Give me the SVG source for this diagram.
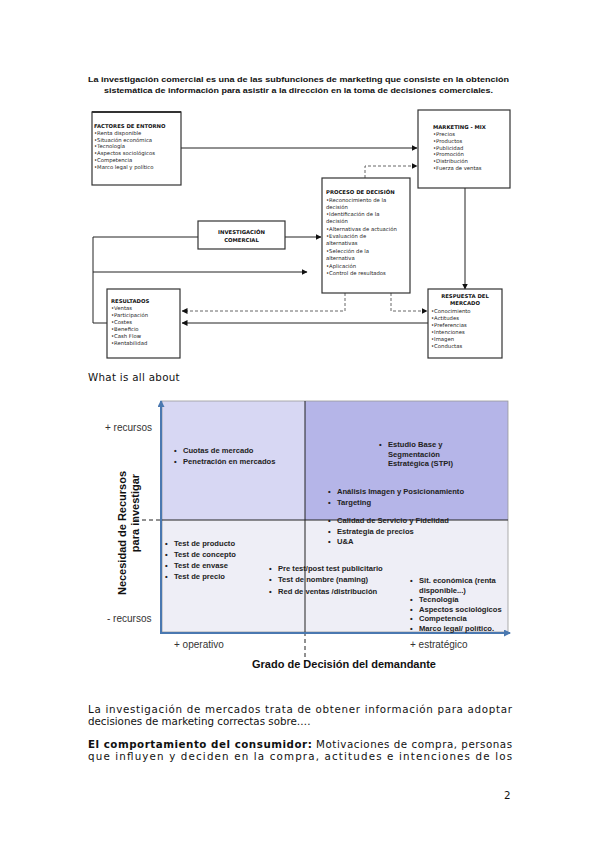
<svg xmlns="http://www.w3.org/2000/svg" width="599" height="848" viewBox="0 0 599 848">
<style>
.t{font-family:"Liberation Sans",Arial,sans-serif;fill:#111}
.s{font-family:"DejaVu Sans",Verdana,sans-serif;font-size:5.3px;fill:#222}
.sb{font-family:"DejaVu Sans",Verdana,sans-serif;font-size:5.3px;font-weight:bold;fill:#111}
.box{fill:#fff;stroke:#333;stroke-width:1.2}
.ln{fill:none;stroke:#222;stroke-width:1}
.dl{fill:none;stroke:#555;stroke-width:0.9;stroke-dasharray:3,2}
.q{font-family:"Liberation Sans",Arial,sans-serif;font-size:7.6px;font-weight:bold;fill:#222}
.ax{font-family:"Liberation Sans",Arial,sans-serif;font-size:10px;fill:#333}
.p{font-family:"DejaVu Sans",Verdana,sans-serif;font-size:10.3px;fill:#111}
</style>
<defs>
<marker id="ah" markerWidth="6" markerHeight="6" refX="5.5" refY="3" orient="auto" markerUnits="userSpaceOnUse"><path d="M0,0 L6,3 L0,6 z" fill="#111"/></marker>
<marker id="ab" markerWidth="7" markerHeight="7" refX="6" refY="3.5" orient="auto" markerUnits="userSpaceOnUse"><path d="M0,0 L7,3.5 L0,7 z" fill="#4a78b0"/></marker>
</defs>
<rect width="599" height="848" fill="#fff"/>

<text class="t" x="298.5" y="82" font-size="7.6" font-weight="bold" text-anchor="middle" textLength="421" lengthAdjust="spacingAndGlyphs">La investigación comercial es una de las subfunciones de marketing que consiste en la obtención</text>
<text class="t" x="298.5" y="93" font-size="7.6" font-weight="bold" text-anchor="middle" textLength="389" lengthAdjust="spacingAndGlyphs">sistemática de información para asistir a la dirección en la toma de decisiones comerciales.</text>

<g id="connectors">
<path class="ln" d="M181,148 H417" marker-end="url(#ah)"/>
<path class="dl" d="M365,178 V166 H417" marker-end="url(#ah)"/>
<path class="ln" d="M465,188 V289" marker-end="url(#ah)"/>
<path class="ln" d="M285,237 H321" marker-end="url(#ah)"/>
<path class="ln" d="M107,323 H93 V237 H198"/>
<path class="ln" d="M93,272 H307" marker-end="url(#ah)"/>
<path class="dl" d="M345,293 V311 H182" marker-end="url(#ah)"/>
<path class="dl" d="M391,293 V311 H427" marker-end="url(#ah)"/>
<path class="ln" d="M428,323 H182" marker-end="url(#ah)"/>
</g>

<g id="factores">
<rect class="box" x="92" y="112" width="89" height="73"/>
<line x1="92" y1="112" x2="181" y2="112" stroke="#333" stroke-width="2"/>
<text class="sb" x="94" y="128">FACTORES DE ENTORNO</text>
<text class="s" x="94" y="134.8">•Renta disponible</text>
<text class="s" x="94" y="141.6">•Situación económica</text>
<text class="s" x="94" y="148.4">•Tecnología</text>
<text class="s" x="94" y="155.2">•Aspectos sociológicos</text>
<text class="s" x="94" y="162">•Competencia</text>
<text class="s" x="94" y="168.8">•Marco legal y político</text>
</g>

<g id="marketing">
<rect class="box" x="418" y="110" width="92" height="78"/>
<text class="sb" x="433" y="129">MARKETING - MIX</text>
<text class="s" x="433" y="136">•Precios</text>
<text class="s" x="433" y="142.8">•Productos</text>
<text class="s" x="433" y="149.6">•Publicidad</text>
<text class="s" x="433" y="156.4">•Promoción</text>
<text class="s" x="433" y="163.2">•Distribución</text>
<text class="s" x="433" y="170">•Fuerza de ventas</text>
</g>

<g id="proceso">
<rect class="box" x="322" y="178" width="88" height="115"/>
<text class="sb" x="326" y="194">PROCESO DE DECISIÓN</text>
<text class="s" x="326" y="202">•Reconocimiento de la</text>
<text class="s" x="326" y="209">decisión</text>
<text class="s" x="326" y="216">•Identificación de la</text>
<text class="s" x="326" y="223">decisión</text>
<text class="s" x="326" y="230.5">•Alternativas de actuación</text>
<text class="s" x="326" y="238">•Evaluación de</text>
<text class="s" x="326" y="245">alternativas</text>
<text class="s" x="326" y="253">•Selección de la</text>
<text class="s" x="326" y="260">alternativa</text>
<text class="s" x="326" y="267.5">•Aplicación</text>
<text class="s" x="326" y="275">•Control de resultados</text>
</g>

<g id="investigacion">
<rect class="box" x="198" y="221" width="87" height="28"/>
<text class="sb" x="241.5" y="234" text-anchor="middle">INVESTIGACIÓN</text>
<text class="sb" x="241.5" y="242" text-anchor="middle">COMERCIAL</text>
</g>

<g id="resultados">
<rect class="box" x="107" y="289" width="73" height="69"/>
<text class="sb" x="111" y="303">RESULTADOS</text>
<text class="s" x="111" y="310">•Ventas</text>
<text class="s" x="111" y="317">•Participación</text>
<text class="s" x="111" y="324">•Costes</text>
<text class="s" x="111" y="331">•Beneficio</text>
<text class="s" x="111" y="338">•Cash Flow</text>
<text class="s" x="111" y="345">•Rentabilidad</text>
</g>

<g id="respuesta">
<rect class="box" x="428" y="289" width="74" height="69"/>
<text class="sb" x="465" y="298" text-anchor="middle">RESPUESTA DEL</text>
<text class="sb" x="465" y="305" text-anchor="middle">MERCADO</text>
<text class="s" x="431" y="312.5">•Conocimiento</text>
<text class="s" x="431" y="319.5">•Actitudes</text>
<text class="s" x="431" y="326.5">•Preferencias</text>
<text class="s" x="431" y="333.5">•Intenciones</text>
<text class="s" x="431" y="340.5">•Imagen</text>
<text class="s" x="431" y="347.5">•Conductas</text>
</g>

<text class="p" x="88" y="381" font-size="10" letter-spacing="0.3">What is all about</text>

<g id="chart">
<rect x="162" y="401" width="143" height="119" fill="#d7d7f3"/>
<rect x="305" y="401" width="203" height="119" fill="#b5b5e8"/>
<rect x="162" y="520" width="346" height="112" fill="#eeeef6"/>
<rect x="162" y="401" width="346" height="231" fill="none" stroke="#999" stroke-width="0.8"/>
<line x1="305" y1="401" x2="305" y2="632" stroke="#222" stroke-width="1"/>
<line x1="305" y1="632" x2="305" y2="662" stroke="#222" stroke-width="1" stroke-dasharray="4,3"/>
<line x1="162" y1="520" x2="508" y2="520" stroke="#222" stroke-width="1"/>
<line x1="135" y1="520" x2="160" y2="520" stroke="#222" stroke-width="1" stroke-dasharray="4,3"/>
<line x1="161" y1="633" x2="161" y2="401" stroke="#4a78b0" stroke-width="2" marker-end="url(#ab)"/>
<line x1="160" y1="633" x2="510" y2="633" stroke="#4a78b0" stroke-width="2" marker-end="url(#ab)"/>

<text class="ax" x="105" y="431">+ recursos</text>
<text class="ax" x="107" y="622">- recursos</text>
<text class="ax" x="174" y="648">+ operativo</text>
<text class="ax" x="410" y="648">+ estratégico</text>
<text class="t" x="344" y="668" font-size="11" font-weight="bold" text-anchor="middle">Grado de Decisión del demandante</text>
<text class="t" transform="translate(126,533) rotate(-90)" font-size="11" font-weight="bold" text-anchor="middle">Necesidad de Recursos</text>
<text class="t" transform="translate(139,513) rotate(-90)" font-size="11" font-weight="bold" text-anchor="middle">para investigar</text>

<g class="q">
<text x="174" y="453">•</text><text x="183" y="453">Cuotas de mercado</text>
<text x="174" y="464">•</text><text x="183" y="464">Penetración en mercados</text>
<text x="379" y="447">•</text><text x="388" y="447">Estudio Base y</text>
<text x="388" y="456.5">Segmentación</text>
<text x="388" y="466">Estratégica (STPI)</text>
<text x="328" y="494">•</text><text x="337" y="494">Análisis  Imagen y Posicionamiento</text>
<text x="328" y="505">•</text><text x="337" y="505">Targeting</text>
<text x="328" y="523">•</text><text x="337" y="523">Calidad de Servicio y Fidelidad</text>
<text x="328" y="534">•</text><text x="337" y="534">Estrategia de precios</text>
<text x="328" y="544">•</text><text x="337" y="544">U&amp;A</text>
<text x="165" y="546">•</text><text x="174" y="546">Test de producto</text>
<text x="165" y="557">•</text><text x="174" y="557">Test de concepto</text>
<text x="165" y="568">•</text><text x="174" y="568">Test de envase</text>
<text x="165" y="579">•</text><text x="174" y="579">Test de precio</text>
<text x="269" y="570.5">•</text><text x="278" y="570.5">Pre test/post test publicitario</text>
<text x="269" y="582">•</text><text x="278" y="582">Test de nombre (naming)</text>
<text x="269" y="593.5">•</text><text x="278" y="593.5">Red de ventas /distribución</text>
<text x="410" y="583">•</text><text x="419" y="583">Sit. económica (renta</text>
<text x="419" y="593">disponible...)</text>
<text x="410" y="602">•</text><text x="419" y="602">Tecnología</text>
<text x="410" y="611.5">•</text><text x="419" y="611.5">Aspectos sociológicos</text>
<text x="410" y="621">•</text><text x="419" y="621">Competencia</text>
<text x="410" y="630.5">•</text><text x="419" y="630.5">Marco legal/ político.</text>
</g>
</g>

<text class="p" x="88" y="713" textLength="424" lengthAdjust="spacing">La investigación de mercados trata de obtener información para adoptar</text>
<text class="p" x="88" y="725">decisiones de marketing correctas sobre….</text>
<text class="p" x="88" y="748" textLength="424" lengthAdjust="spacing"><tspan font-weight="bold">El comportamiento del consumidor:</tspan> Motivaciones de compra, personas</text>
<text class="p" x="88" y="760" textLength="424" lengthAdjust="spacing">que influyen y deciden en la compra, actitudes e intenciones de los</text>
<text class="p" x="504" y="799">2</text>
</svg>
